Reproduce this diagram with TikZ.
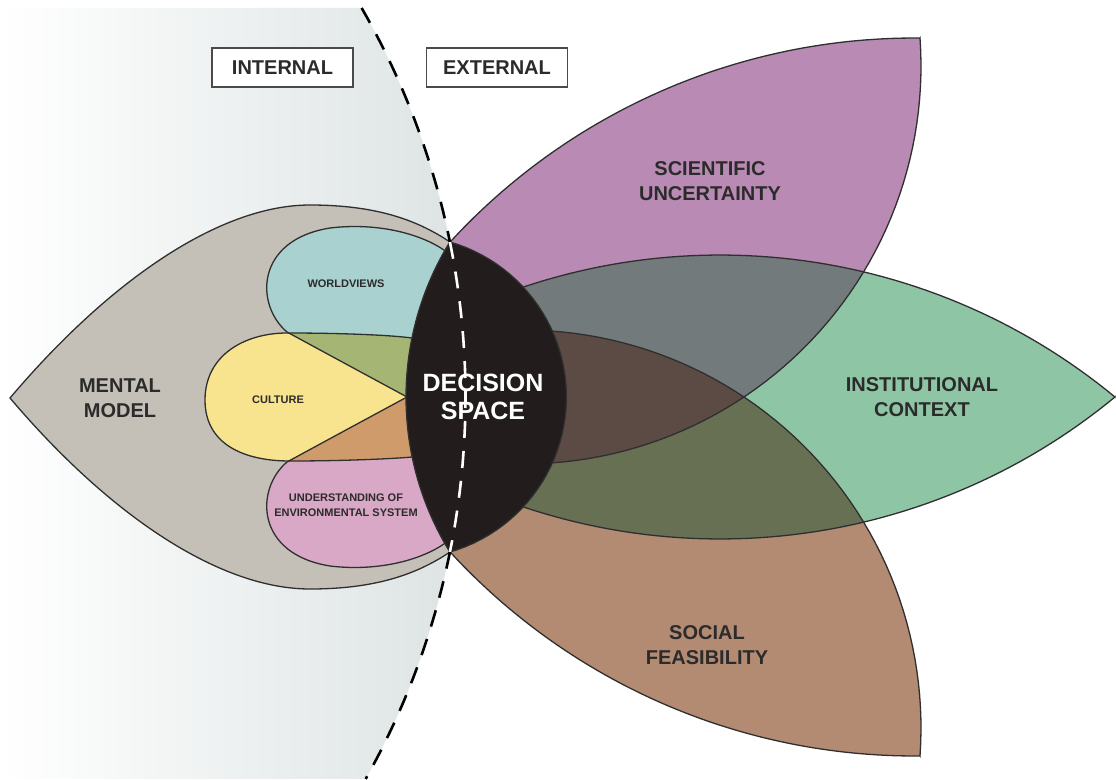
\documentclass[tikz,border=0pt]{standalone}
\usepackage{fontspec}
\setmainfont{Liberation Sans}
\definecolor{bgC}{HTML}{DDE3E3}
\definecolor{mentalC}{HTML}{C4C0B7}
\definecolor{tealC}{HTML}{A9D1D0}
\definecolor{yellowC}{HTML}{F8E38E}
\definecolor{pinkC}{HTML}{D9A8C6}
\definecolor{oliveC}{HTML}{A5B674}
\definecolor{orangeC}{HTML}{CF9B6B}
\definecolor{purpleC}{HTML}{B98AB4}
\definecolor{greenC}{HTML}{8EC6A5}
\definecolor{brownC}{HTML}{B38A72}
\definecolor{pgC}{HTML}{737A7C}
\definecolor{gbC}{HTML}{687054}
\definecolor{pbC}{HTML}{5B4B44}
\definecolor{decC}{HTML}{221C1C}
\definecolor{lineC}{HTML}{2F2F2F}
\definecolor{txtC}{HTML}{2B2B2B}
\definecolor{boxC}{HTML}{4A4A4A}
\newcommand\pMental{(10,398) .. controls (110,280) and (220,205) .. (310,205) .. controls (380,205) and (420,222) .. (450,242) -- plot[domain=-73.8:73.8,samples=40] ({405+161.4*cos(\x)},{397+161.4*sin(\x)}) .. controls (420,572) and (380,589) .. (310,589) .. controls (220,589) and (110,516) .. (10,398) -- cycle}
\newcommand\pWorld{(407,397) .. controls (370,377) and (320,350) .. (287,332) .. controls (255,305) and (255,240) .. (330,228) .. controls (380,222) and (425,235) .. (448,253) -- (480,300) -- cycle}
\newcommand\pCult{(205,400) .. controls (205,355) and (245,333) .. (287,333) .. controls (340,333) and (390,335) .. (412,338) -- (455,340) -- (455,455) -- (412,457) .. controls (390,459) and (340,461) .. (290,461) .. controls (245,461) and (205,445) .. (205,400) -- cycle}
\newcommand\pUnder{(407,397) .. controls (370,417) and (320,444) .. (287,462) .. controls (255,489) and (255,554) .. (330,566) .. controls (380,572) and (425,559) .. (448,541) -- (480,494) -- cycle}
\newcommand\pPurple{plot[domain=222.56:270.5,samples=60] ({914.5+630.6*cos(\x)},{668.6+630.6*sin(\x)}) -- plot[domain=-4.03:100,samples=60] ({523+398*cos(\x)},{66+398*sin(\x)}) -- (420,397) -- cycle}
\newcommand\pGreen{plot[domain=247.2:309.55,samples=60] ({720+620.4*cos(\x)},{875.4+620.4*sin(\x)}) -- plot[domain=50.45:112.8,samples=60] ({720+620.4*cos(\x)},{-81.4+620.4*sin(\x)}) -- (420,397) -- cycle}
\newcommand\pBrown{plot[domain=137.44:89.5,samples=60] ({914.5+630.6*cos(\x)},{125.4+630.6*sin(\x)}) -- plot[domain=4.03:-100,samples=60] ({523+398*cos(\x)},{728+398*sin(\x)}) -- (420,397) -- cycle}
\newcommand\pLens{plot[domain=-73.8:73.8,samples=50] ({405+161.4*cos(\x)},{397+161.4*sin(\x)}) -- plot[domain=148.4:211.6,samples=50] ({702+296*cos(\x)},{397+296*sin(\x)}) -- cycle}
\begin{document}
\begin{tikzpicture}[x=1pt,y=-1pt,
  outline/.style={draw=lineC, line width=1.3pt, line join=miter},
  dashline/.style={line width=2.6pt, dash pattern=on 17pt off 13pt},
  biglbl/.style={font=\bfseries\fontsize{20}{25}\selectfont, text=txtC, align=center, inner sep=0pt},
  declbl/.style={font=\bfseries\fontsize{25}{28}\selectfont, text=white, align=center, inner sep=0pt},
  smalllbl/.style={font=\bfseries\fontsize{11}{15}\selectfont, text=txtC, align=center, inner sep=0pt},
  tagbox/.style={draw=boxC, line width=1.2pt, fill=white, minimum width=141pt, minimum height=39pt, inner sep=0pt, font=\bfseries\fontsize{20}{24}\selectfont, text=txtC}]
\useasboundingbox (0,0) rectangle (1116,779);
\fill[white] (0,0) rectangle (1116,779);
% internal background
\shade[left color=white, right color=bgC] (0,8) -- plot[domain=-29.89:29.29,samples=60] ({-315.2+780.7*cos(\x)},{397+780.7*sin(\x)}) -- (0,779) -- cycle;
% mental model and lobes
\fill[mentalC] \pMental;
\fill[tealC] \pWorld;
\fill[yellowC] \pCult;
\fill[pinkC] \pUnder;
\begin{scope}\clip \pWorld; \fill[oliveC] \pCult; \end{scope}
\begin{scope}\clip \pCult; \fill[orangeC] \pUnder; \end{scope}
\draw[outline] \pMental;
\draw[outline] \pWorld;
\draw[outline] \pCult;
\draw[outline] \pUnder;
% external petals
\fill[purpleC] \pPurple;
\fill[greenC] \pGreen;
\fill[brownC] \pBrown;
\begin{scope}\clip \pPurple; \fill[pgC] \pGreen; \end{scope}
\begin{scope}\clip \pGreen; \fill[gbC] \pBrown; \end{scope}
\begin{scope}\clip \pPurple; \fill[pbC] \pBrown; \end{scope}
\draw[outline] \pPurple;
\draw[outline] \pGreen;
\draw[outline] \pBrown;
% decision space
\fill[decC] \pLens;
\draw[outline] \pLens;
% dashed boundary
\draw[dashline, black] plot[domain=-29.89:-11.45,samples=40] ({-315.2+780.7*cos(\x)},{397+780.7*sin(\x)});
\draw[dashline, white] plot[domain=-11.45:11.45,samples=40] ({-315.2+780.7*cos(\x)},{397+780.7*sin(\x)});
\draw[dashline, black] plot[domain=11.45:29.29,samples=40] ({-315.2+780.7*cos(\x)},{397+780.7*sin(\x)});
% labels
\node[tagbox] (internal) at (282.5,67.5) {INTERNAL};
\node[tagbox] (external) at (497,67.5) {EXTERNAL};
\node[biglbl] (mental) at (120,398) {MENTAL\\MODEL};
\node[biglbl] (sci) at (710,181) {SCIENTIFIC\\UNCERTAINTY};
\node[biglbl] (inst) at (922,397) {INSTITUTIONAL\\CONTEXT};
\node[biglbl] (soc) at (707,645) {SOCIAL\\FEASIBILITY};
\node[declbl] (dec) at (483,397) {DECISION\\SPACE};
\node[smalllbl] (wv) at (346,284) {WORLDVIEWS};
\node[smalllbl] (cul) at (278,400) {CULTURE};
\node[smalllbl] (und) at (346,505) {UNDERSTANDING OF\\ENVIRONMENTAL SYSTEM};
\end{tikzpicture}
\end{document}
